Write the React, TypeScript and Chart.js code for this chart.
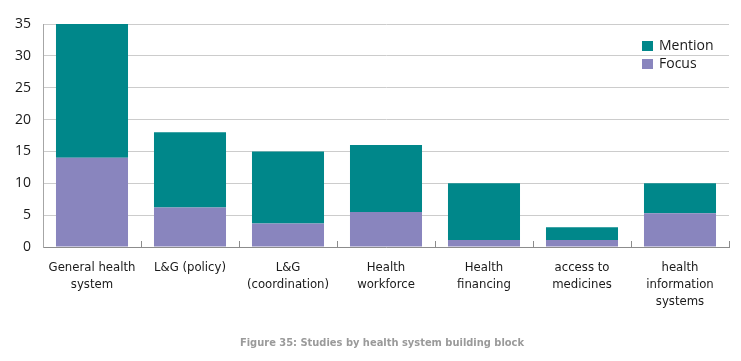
import React, { useEffect, useRef } from "react";
import { Chart, registerables } from "chart.js";

Chart.register(...registerables);

const categories: (string | string[])[] = [
  ["General health", "system"],
  "L&G (policy)",
  ["L&G", "(coordination)"],
  ["Health", "workforce"],
  ["Health", "financing"],
  ["access to", "medicines"],
  ["health", "information", "systems"],
];
const focusValues = [14, 6.2, 3.7, 5.5, 1.1, 1.1, 5.3];
const mentionValues = [21, 11.8, 11.3, 10.5, 8.9, 2.0, 4.7];
const yTicks = [0, 5, 10, 15, 20, 25, 30, 35];
const titleText = "Figure 35: Studies by health system building block";

const TEAL = "#00878A";
const PURPLE = "#8985BE";
const LABEL_FONT = "'DejaVu Sans Condensed', 'Liberation Sans Narrow', sans-serif";

export default function App() {
  const ref = useRef<HTMLCanvasElement | null>(null);
  useEffect(() => {
    document.body.style.margin = "0";
    const canvas = ref.current!;
    const innerTicks = {
      id: "innerTicks",
      beforeDatasetsDraw(chart: any) {
        const x = chart.scales.x;
        const ctx = chart.ctx;
        const n = categories.length;
        const w = (x.right - x.left) / n;
        ctx.save();
        ctx.strokeStyle = "#8c8c8c";
        ctx.lineWidth = 1;
        for (let i = 1; i <= n; i++) {
          const px = Math.round(x.left + i * w) + 0.5;
          ctx.beginPath();
          ctx.moveTo(px, x.top);
          ctx.lineTo(px, x.top - 6);
          ctx.stroke();
        }
        ctx.restore();
      },
    };
    const legendPlugin = {
      id: "customLegend",
      afterDraw(chart: any) {
        const ctx = chart.ctx;
        const area = chart.chartArea;
        const items = [
          { label: "Mention", color: TEAL },
          { label: "Focus", color: PURPLE },
        ];
        ctx.save();
        ctx.font = "14px 'Open Sans', sans-serif";
        ctx.textBaseline = "middle";
        items.forEach((it, i) => {
          const bx = area.right - 87;
          const by = area.top + 17 + i * 18;
          ctx.fillStyle = it.color;
          ctx.fillRect(bx, by, 11, 10);
          ctx.fillStyle = "#1a1a1a";
          ctx.fillText(it.label, bx + 17, by + 5);
        });
        // caption below the chart, centred on the plot area
        ctx.font = `bold 11px ${LABEL_FONT}`;
        ctx.fillStyle = "#9a9a9a";
        ctx.textAlign = "center";
        ctx.fillText(titleText, (area.left + area.right) / 2 - 4, chart.height - 18);
        ctx.restore();
      },
    };
    const chart = new Chart(canvas, {
      type: "bar",
      data: {
        labels: categories,
        datasets: [
          {
            label: "Focus",
            data: focusValues,
            backgroundColor: PURPLE,
            barPercentage: 0.735,
            categoryPercentage: 1,
          },
          {
            label: "Mention",
            data: mentionValues,
            backgroundColor: TEAL,
            barPercentage: 0.735,
            categoryPercentage: 1,
          },
        ],
      },
      options: {
        responsive: false,
        animation: false,
        layout: { padding: { top: 24, right: 12, bottom: 26, left: 0 } },
        plugins: {
          legend: { display: false },
          tooltip: { enabled: false },
          title: { display: false },
        },
        scales: {
          x: {
            stacked: true,
            grid: { display: false, drawTicks: false },
            border: { display: true, color: "#8c8c8c", width: 1 },
            ticks: {
              color: "#1a1a1a",
              padding: 12,
              maxRotation: 0,
              autoSkip: false,
              font: { family: LABEL_FONT, size: 13, lineHeight: 1.3 },
            },
            afterFit(scale: any) {
              scale.height = 88;
            },
          },
          y: {
            stacked: true,
            min: 0,
            max: 35,
            afterBuildTicks(scale: any) {
              scale.ticks = yTicks.map((v) => ({ value: v }));
            },
            grid: { color: "#cccccc", drawTicks: false },
            border: { display: true, color: "#a6a6a6", width: 1 },
            ticks: {
              color: "#1a1a1a",
              padding: 12,
              font: { family: "'Open Sans', sans-serif", size: 14 },
            },
            afterFit(scale: any) {
              scale.width = 43;
            },
          },
        },
      },
      plugins: [innerTicks, legendPlugin],
    });
    return () => chart.destroy();
  }, []);
  return (
    <div style={{ width: 741, height: 361 }}>
      <canvas ref={ref} width={741} height={361} />
    </div>
  );
}
